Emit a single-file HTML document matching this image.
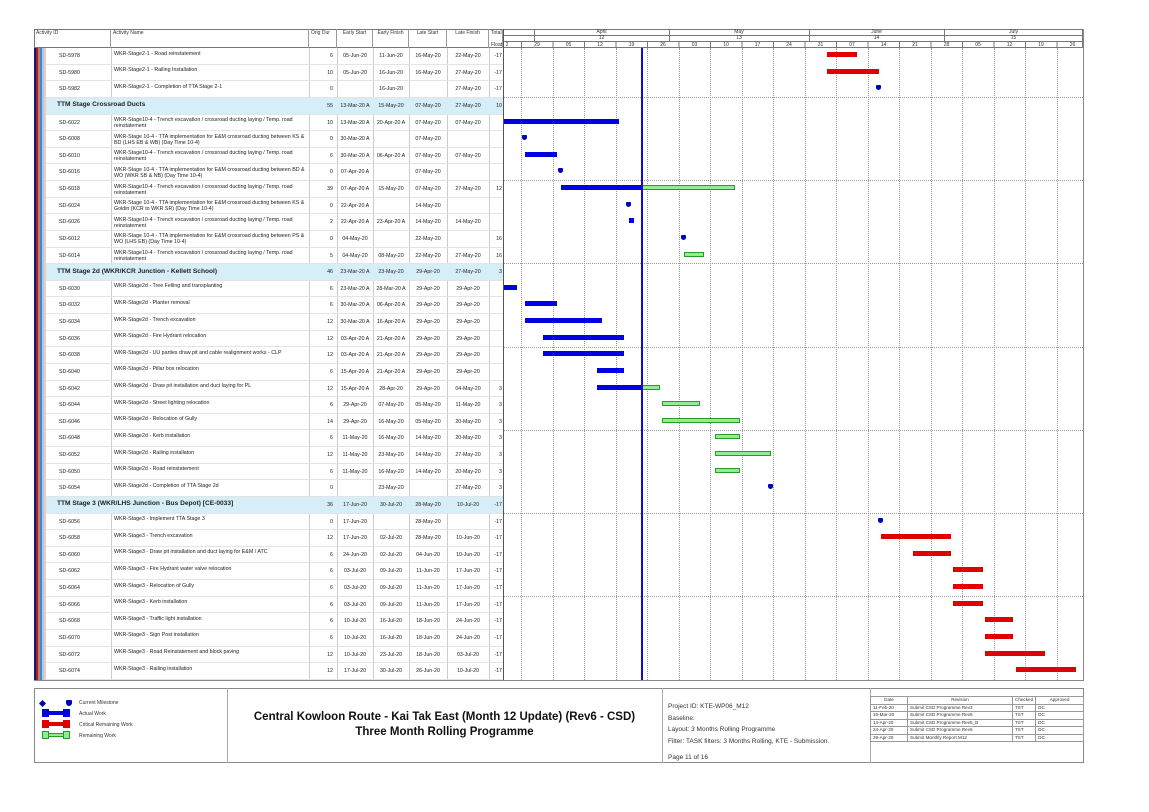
<!DOCTYPE html>
<html><head><meta charset="utf-8">
<style>
*{margin:0;padding:0;box-sizing:border-box}
body{width:1149px;height:812px;background:#fff;position:relative;overflow:hidden;font-family:"Liberation Sans",sans-serif;color:#222}
.a{position:absolute}
.hdr{position:absolute;top:29px;height:19px;font-size:5px;border-right:1px solid #999;padding:1px 2px;color:#333}
#rows{position:absolute;left:34px;top:48px;width:1049px}
.r{position:relative;height:16.63px;font-size:5.3px;line-height:6px}
.r:after{content:"";position:absolute;left:12px;width:457px;bottom:0;border-bottom:1px solid #e4e4e4}
.r span{position:absolute;top:5px}
.id{left:25px}
.nm{left:80px;width:195px;top:2.5px!important}
.od{left:275px;width:24px;text-align:right}
.es{left:303px;width:36px;text-align:center}
.ef{left:339px;width:36px;text-align:center}
.ls{left:375px;width:38px;text-align:center}
.lf{left:413px;width:42px;text-align:center}
.tf{left:455px;width:13px;text-align:right}
.g .gb{position:absolute;left:12px;width:457px;height:100%;background:#d6eef8;top:0}
.g .tt{left:23px;font-weight:bold;font-size:6.6px;top:4.5px}
.b{position:absolute;top:4px;height:5px}
.bl{background:#0000e0}
.rd{background:#e00000}
.gr{background:#90ee90;border:1px solid #2a9a2a}
.m{position:absolute;top:4px;width:5px;height:5px;background:#0000c0;border-radius:1px 1px 50% 50%}
.vl{position:absolute;top:29px;height:651px;width:0;border-left:1px solid #ccc}
.gl{position:absolute;top:48px;height:632px;width:0;border-left:1px dotted #999}
.wk{position:absolute;top:42px;font-size:5px;width:20px;text-align:center;margin-left:-10px;color:#333}
.hl{position:absolute;left:503px;width:580px;height:0;border-top:1px dotted #999}
.ft{font-size:5px;color:#333}
.rv td{border:1px solid #999;font-size:4.6px;padding:0 2px;height:7.5px;line-height:6px}
</style></head><body>
<!-- outer frame -->
<div class="a" style="left:34px;top:29px;width:1050px;height:652px;border:1px solid #888;border-left:none"></div>
<!-- table column lines -->
<div class="vl" style="left:111px"></div><div class="vl" style="left:309px"></div><div class="vl" style="left:337px"></div><div class="vl" style="left:373px"></div><div class="vl" style="left:409px"></div><div class="vl" style="left:447px"></div><div class="vl" style="left:489px"></div>
<!-- gridlines -->
<div class="gl" style="left:521px"></div><div class="gl" style="left:552.5px"></div><div class="gl" style="left:584px"></div><div class="gl" style="left:615.5px"></div><div class="gl" style="left:647px"></div><div class="gl" style="left:678.5px"></div><div class="gl" style="left:710px"></div><div class="gl" style="left:741.5px"></div><div class="gl" style="left:773px"></div><div class="gl" style="left:804.5px"></div><div class="gl" style="left:836px"></div><div class="gl" style="left:867.5px"></div><div class="gl" style="left:899px"></div><div class="gl" style="left:930.5px"></div><div class="gl" style="left:962px"></div><div class="gl" style="left:993.5px"></div><div class="gl" style="left:1025px"></div><div class="gl" style="left:1056.5px"></div>
<div class="hl" style="top:97px"></div><div class="hl" style="top:180px"></div><div class="hl" style="top:263px"></div><div class="hl" style="top:347px"></div><div class="hl" style="top:430px"></div><div class="hl" style="top:513px"></div><div class="hl" style="top:596px"></div>
<!-- header -->
<div class="a" style="left:34px;top:29px;width:1049px;height:19px;border:1px solid #777;background:#fff"></div>
<div class="hdr" style="left:34px;width:77px">Activity ID</div>
<div class="hdr" style="left:111px;width:198px">Activity Name</div>
<div class="hdr" style="left:309px;width:28px">Orig Dur</div>
<div class="hdr" style="left:337px;width:36px;text-align:center">Early Start</div>
<div class="hdr" style="left:373px;width:36px;text-align:center">Early Finish</div>
<div class="hdr" style="left:409px;width:38px;text-align:center">Late Start</div>
<div class="hdr" style="left:447px;width:42px;text-align:center">Late Finish</div>
<div class="hdr" style="left:489px;width:14px">Total<br><br>Float</div>
<!-- timeline header -->
<div class="a" style="left:503px;top:35px;width:580px;border-top:1px solid #777"></div>
<div class="a" style="left:503px;top:41px;width:580px;border-top:1px solid #777"></div>
<div class="a" style="left:534px;top:29px;height:12px;border-left:1px solid #777"></div>
<div class="a" style="left:669px;top:29px;height:12px;border-left:1px solid #777"></div>
<div class="a" style="left:809px;top:29px;height:12px;border-left:1px solid #777"></div>
<div class="a" style="left:944px;top:29px;height:12px;border-left:1px solid #777"></div>
<div class="a ft" style="left:534px;top:29px;width:135px;text-align:center">April</div>
<div class="a ft" style="left:534px;top:35px;width:135px;text-align:center">12</div>
<div class="a ft" style="left:669px;top:29px;width:140px;text-align:center">May</div>
<div class="a ft" style="left:669px;top:35px;width:140px;text-align:center">13</div>
<div class="a ft" style="left:809px;top:29px;width:135px;text-align:center">June</div>
<div class="a ft" style="left:809px;top:35px;width:135px;text-align:center">14</div>
<div class="a ft" style="left:944px;top:29px;width:139px;text-align:center">July</div>
<div class="a ft" style="left:944px;top:35px;width:139px;text-align:center">15</div>
<div class="wk" style="left:507px">2</div>
<div class="wk" style="left:537px">29</div><div class="wk" style="left:568.5px">05</div><div class="wk" style="left:600px">12</div><div class="wk" style="left:631.5px">19</div><div class="wk" style="left:663px">26</div><div class="wk" style="left:694.5px">03</div><div class="wk" style="left:726px">10</div><div class="wk" style="left:757.5px">17</div><div class="wk" style="left:789px">24</div><div class="wk" style="left:820.5px">31</div><div class="wk" style="left:852px">07</div><div class="wk" style="left:883.5px">14</div><div class="wk" style="left:915px">21</div><div class="wk" style="left:946.5px">28</div><div class="wk" style="left:978px">05</div><div class="wk" style="left:1009.5px">12</div><div class="wk" style="left:1041px">19</div><div class="wk" style="left:1072.5px">26</div>
<div class="a" style="left:521px;top:41px;width:1px;height:7px;background:#777;box-shadow:31.5px 0 #777,63px 0 #777,94.5px 0 #777,126px 0 #777,157.5px 0 #777,189px 0 #777,220.5px 0 #777,252px 0 #777,283.5px 0 #777,315px 0 #777,346.5px 0 #777,378px 0 #777,409.5px 0 #777,441px 0 #777,472.5px 0 #777,504px 0 #777,535.5px 0 #777"></div>

<div id="rows">
<div class="r"><span class="id">SD-5978</span><span class="nm">WKR-Stage2-1 - Road reinstatement</span><span class="od">6</span><span class="es">05-Jun-20</span><span class="ef">11-Jun-20</span><span class="ls">16-May-20</span><span class="lf">22-May-20</span><span class="tf">-17</span><div class="b rd" style="left:793px;width:30px"></div></div>
<div class="r"><span class="id">SD-5980</span><span class="nm">WKR-Stage2-1 - Railing Installation</span><span class="od">10</span><span class="es">05-Jun-20</span><span class="ef">16-Jun-20</span><span class="ls">16-May-20</span><span class="lf">27-May-20</span><span class="tf">-17</span><div class="b rd" style="left:793px;width:52px"></div></div>
<div class="r"><span class="id">SD-5982</span><span class="nm">WKR-Stage2-1 - Completion of TTA Stage 2-1</span><span class="od">0</span><span class="ef">16-Jun-20</span><span class="lf">27-May-20</span><span class="tf">-17</span><div class="m" style="left:842px"></div></div>
<div class="r g"><div class="gb"></div><span class="tt">TTM Stage Crossroad Ducts</span><span class="od">55</span><span class="es">13-Mar-20 A</span><span class="ef">15-May-20</span><span class="ls">07-May-20</span><span class="lf">27-May-20</span><span class="tf">10</span></div>
<div class="r"><span class="id">SD-6022</span><span class="nm">WKR-Stage10-4 - Trench excavation / crossroad ducting laying / Temp. road reinstatement</span><span class="od">10</span><span class="es">13-Mar-20 A</span><span class="ef">20-Apr-20 A</span><span class="ls">07-May-20</span><span class="lf">07-May-20</span><div class="b bl" style="left:469px;width:116px"></div></div>
<div class="r"><span class="id">SD-6008</span><span class="nm">WKR-Stage 10-4 - TTA implementation for E&amp;M crossroad ducting between KS &amp; BD (LHS EB &amp; WB) (Day Time 10-4)</span><span class="od">0</span><span class="es">30-Mar-20 A</span><span class="ls">07-May-20</span><div class="m" style="left:488px"></div></div>
<div class="r"><span class="id">SD-6010</span><span class="nm">WKR-Stage10-4 - Trench excavation / crossroad ducting laying / Temp. road reinstatement</span><span class="od">6</span><span class="es">30-Mar-20 A</span><span class="ef">06-Apr-20 A</span><span class="ls">07-May-20</span><span class="lf">07-May-20</span><div class="b bl" style="left:491px;width:32px"></div></div>
<div class="r"><span class="id">SD-6016</span><span class="nm">WKR-Stage 10-4 - TTA implementation for E&amp;M crossroad ducting between BD &amp; WO (WKR SB &amp; NB) (Day Time 10-4)</span><span class="od">0</span><span class="es">07-Apr-20 A</span><span class="ls">07-May-20</span><div class="m" style="left:524px"></div></div>
<div class="r"><span class="id">SD-6018</span><span class="nm">WKR-Stage10-4 - Trench excavation / crossroad ducting laying / Temp. road reinstatement</span><span class="od">39</span><span class="es">07-Apr-20 A</span><span class="ef">15-May-20</span><span class="ls">07-May-20</span><span class="lf">27-May-20</span><span class="tf">12</span><div class="b bl" style="left:527px;width:81px"></div><div class="b gr" style="left:608px;width:93px"></div></div>
<div class="r"><span class="id">SD-6024</span><span class="nm">WKR-Stage 10-4 - TTA implementation for E&amp;M crossroad ducting between KS &amp; Goldin (KCR to WKR SR) (Day Time 10-4)</span><span class="od">0</span><span class="es">22-Apr-20 A</span><span class="ls">14-May-20</span><div class="m" style="left:592px"></div></div>
<div class="r"><span class="id">SD-6026</span><span class="nm">WKR-Stage10-4 - Trench excavation / crossroad ducting laying / Temp. road reinstatement</span><span class="od">2</span><span class="es">22-Apr-20 A</span><span class="ef">23-Apr-20 A</span><span class="ls">14-May-20</span><span class="lf">14-May-20</span><div class="b bl" style="left:595px;width:5px"></div></div>
<div class="r"><span class="id">SD-6012</span><span class="nm">WKR-Stage 10-4 - TTA implementation for E&amp;M crossroad ducting between PS &amp; WO (LHS EB) (Day Time 10-4)</span><span class="od">0</span><span class="es">04-May-20</span><span class="ls">22-May-20</span><span class="tf">16</span><div class="m" style="left:647px"></div></div>
<div class="r"><span class="id">SD-6014</span><span class="nm">WKR-Stage10-4 - Trench excavation / crossroad ducting laying / Temp. road reinstatement</span><span class="od">5</span><span class="es">04-May-20</span><span class="ef">08-May-20</span><span class="ls">22-May-20</span><span class="lf">27-May-20</span><span class="tf">16</span><div class="b gr" style="left:650px;width:20px"></div></div>
<div class="r g"><div class="gb"></div><span class="tt">TTM Stage 2d (WKR/KCR Junction - Kellett School)</span><span class="od">46</span><span class="es">23-Mar-20 A</span><span class="ef">23-May-20</span><span class="ls">29-Apr-20</span><span class="lf">27-May-20</span><span class="tf">3</span></div>
<div class="r"><span class="id">SD-6030</span><span class="nm">WKR-Stage2d - Tree Felling and transplanting</span><span class="od">6</span><span class="es">23-Mar-20 A</span><span class="ef">28-Mar-20 A</span><span class="ls">29-Apr-20</span><span class="lf">29-Apr-20</span><div class="b bl" style="left:469px;width:14px"></div></div>
<div class="r"><span class="id">SD-6032</span><span class="nm">WKR-Stage2d - Planter removal</span><span class="od">6</span><span class="es">30-Mar-20 A</span><span class="ef">06-Apr-20 A</span><span class="ls">29-Apr-20</span><span class="lf">29-Apr-20</span><div class="b bl" style="left:491px;width:32px"></div></div>
<div class="r"><span class="id">SD-6034</span><span class="nm">WKR-Stage2d - Trench excavation</span><span class="od">12</span><span class="es">30-Mar-20 A</span><span class="ef">16-Apr-20 A</span><span class="ls">29-Apr-20</span><span class="lf">29-Apr-20</span><div class="b bl" style="left:491px;width:77px"></div></div>
<div class="r"><span class="id">SD-6036</span><span class="nm">WKR-Stage2d - Fire Hydrant relocation</span><span class="od">12</span><span class="es">03-Apr-20 A</span><span class="ef">21-Apr-20 A</span><span class="ls">29-Apr-20</span><span class="lf">29-Apr-20</span><div class="b bl" style="left:509px;width:81px"></div></div>
<div class="r"><span class="id">SD-6038</span><span class="nm">WKR-Stage2d - UU parties draw pit and cable realignment works - CLP</span><span class="od">12</span><span class="es">03-Apr-20 A</span><span class="ef">21-Apr-20 A</span><span class="ls">29-Apr-20</span><span class="lf">29-Apr-20</span><div class="b bl" style="left:509px;width:81px"></div></div>
<div class="r"><span class="id">SD-6040</span><span class="nm">WKR-Stage2d - Pillar box relocation</span><span class="od">6</span><span class="es">15-Apr-20 A</span><span class="ef">21-Apr-20 A</span><span class="ls">29-Apr-20</span><span class="lf">29-Apr-20</span><div class="b bl" style="left:563px;width:27px"></div></div>
<div class="r"><span class="id">SD-6042</span><span class="nm">WKR-Stage2d - Draw pit installation and duct laying for PL</span><span class="od">12</span><span class="es">15-Apr-20 A</span><span class="ef">28-Apr-20</span><span class="ls">29-Apr-20</span><span class="lf">04-May-20</span><span class="tf">3</span><div class="b bl" style="left:563px;width:45px"></div><div class="b gr" style="left:608px;width:18px"></div></div>
<div class="r"><span class="id">SD-6044</span><span class="nm">WKR-Stage2d - Street lighting relocation</span><span class="od">6</span><span class="es">29-Apr-20</span><span class="ef">07-May-20</span><span class="ls">05-May-20</span><span class="lf">11-May-20</span><span class="tf">3</span><div class="b gr" style="left:628px;width:38px"></div></div>
<div class="r"><span class="id">SD-6046</span><span class="nm">WKR-Stage2d - Relocation of Gully</span><span class="od">14</span><span class="es">29-Apr-20</span><span class="ef">16-May-20</span><span class="ls">05-May-20</span><span class="lf">20-May-20</span><span class="tf">3</span><div class="b gr" style="left:628px;width:78px"></div></div>
<div class="r"><span class="id">SD-6048</span><span class="nm">WKR-Stage2d - Kerb installation</span><span class="od">6</span><span class="es">11-May-20</span><span class="ef">16-May-20</span><span class="ls">14-May-20</span><span class="lf">20-May-20</span><span class="tf">3</span><div class="b gr" style="left:681px;width:25px"></div></div>
<div class="r"><span class="id">SD-6052</span><span class="nm">WKR-Stage2d - Railing installaton</span><span class="od">12</span><span class="es">11-May-20</span><span class="ef">23-May-20</span><span class="ls">14-May-20</span><span class="lf">27-May-20</span><span class="tf">3</span><div class="b gr" style="left:681px;width:56px"></div></div>
<div class="r"><span class="id">SD-6050</span><span class="nm">WKR-Stage2d - Road reinstatement</span><span class="od">6</span><span class="es">11-May-20</span><span class="ef">16-May-20</span><span class="ls">14-May-20</span><span class="lf">20-May-20</span><span class="tf">3</span><div class="b gr" style="left:681px;width:25px"></div></div>
<div class="r"><span class="id">SD-6054</span><span class="nm">WKR-Stage2d - Completion of TTA Stage 2d</span><span class="od">0</span><span class="ef">23-May-20</span><span class="lf">27-May-20</span><span class="tf">3</span><div class="m" style="left:734px"></div></div>
<div class="r g"><div class="gb"></div><span class="tt">TTM Stage 3 (WKR/LHS Junction - Bus Depot) [CE-0033]</span><span class="od">36</span><span class="es">17-Jun-20</span><span class="ef">30-Jul-20</span><span class="ls">28-May-20</span><span class="lf">10-Jul-20</span><span class="tf">-17</span></div>
<div class="r"><span class="id">SD-6056</span><span class="nm">WKR-Stage3 - Implement TTA Stage 3</span><span class="od">0</span><span class="es">17-Jun-20</span><span class="ls">28-May-20</span><span class="tf">-17</span><div class="m" style="left:844px"></div></div>
<div class="r"><span class="id">SD-6058</span><span class="nm">WKR-Stage3 - Trench excavation</span><span class="od">12</span><span class="es">17-Jun-20</span><span class="ef">02-Jul-20</span><span class="ls">28-May-20</span><span class="lf">10-Jun-20</span><span class="tf">-17</span><div class="b rd" style="left:847px;width:70px"></div></div>
<div class="r"><span class="id">SD-6060</span><span class="nm">WKR-Stage3 - Draw pit installation and duct laying for E&amp;M / ATC</span><span class="od">6</span><span class="es">24-Jun-20</span><span class="ef">02-Jul-20</span><span class="ls">04-Jun-20</span><span class="lf">10-Jun-20</span><span class="tf">-17</span><div class="b rd" style="left:879px;width:38px"></div></div>
<div class="r"><span class="id">SD-6062</span><span class="nm">WKR-Stage3 - Fire Hydrant water valve relocation</span><span class="od">6</span><span class="es">03-Jul-20</span><span class="ef">09-Jul-20</span><span class="ls">11-Jun-20</span><span class="lf">17-Jun-20</span><span class="tf">-17</span><div class="b rd" style="left:919px;width:30px"></div></div>
<div class="r"><span class="id">SD-6064</span><span class="nm">WKR-Stage3 - Relocation of Gully</span><span class="od">6</span><span class="es">03-Jul-20</span><span class="ef">09-Jul-20</span><span class="ls">11-Jun-20</span><span class="lf">17-Jun-20</span><span class="tf">-17</span><div class="b rd" style="left:919px;width:30px"></div></div>
<div class="r"><span class="id">SD-6066</span><span class="nm">WKR-Stage3 - Kerb installation</span><span class="od">6</span><span class="es">03-Jul-20</span><span class="ef">09-Jul-20</span><span class="ls">11-Jun-20</span><span class="lf">17-Jun-20</span><span class="tf">-17</span><div class="b rd" style="left:919px;width:30px"></div></div>
<div class="r"><span class="id">SD-6068</span><span class="nm">WKR-Stage3 - Traffic light installation</span><span class="od">6</span><span class="es">10-Jul-20</span><span class="ef">16-Jul-20</span><span class="ls">18-Jun-20</span><span class="lf">24-Jun-20</span><span class="tf">-17</span><div class="b rd" style="left:951px;width:28px"></div></div>
<div class="r"><span class="id">SD-6070</span><span class="nm">WKR-Stage3 - Sign Post installation</span><span class="od">6</span><span class="es">10-Jul-20</span><span class="ef">16-Jul-20</span><span class="ls">18-Jun-20</span><span class="lf">24-Jun-20</span><span class="tf">-17</span><div class="b rd" style="left:951px;width:28px"></div></div>
<div class="r"><span class="id">SD-6072</span><span class="nm">WKR-Stage3 - Road Reinstatement and block paving</span><span class="od">12</span><span class="es">10-Jul-20</span><span class="ef">23-Jul-20</span><span class="ls">18-Jun-20</span><span class="lf">03-Jul-20</span><span class="tf">-17</span><div class="b rd" style="left:951px;width:60px"></div></div>
<div class="r"><span class="id">SD-6074</span><span class="nm">WKR-Stage3 - Railing installation</span><span class="od">12</span><span class="es">17-Jul-20</span><span class="ef">30-Jul-20</span><span class="ls">26-Jun-20</span><span class="lf">10-Jul-20</span><span class="tf">-17</span><div class="b rd" style="left:982px;width:60px"></div></div>
</div>
<!-- stripes -->
<div class="a" style="left:34px;top:48px;width:2px;height:632px;background:#1a1a6a"></div>
<div class="a" style="left:36px;top:48px;width:2px;height:632px;background:#8a2a2a"></div>
<div class="a" style="left:38px;top:48px;width:2px;height:632px;background:#e0706a"></div>
<div class="a" style="left:40px;top:48px;width:2px;height:632px;background:#3a8ad8"></div>
<div class="a" style="left:42px;top:48px;width:2px;height:632px;background:#9ad0ea"></div>
<div class="a" style="left:44px;top:48px;width:2px;height:632px;background:#f0c8c0"></div>
<div class="a" style="left:503px;top:29px;height:651px;border-left:1px solid #555"></div>
<!-- data date -->
<div class="a" style="left:641px;top:48px;width:2px;height:632px;background:#1010c0"></div>

<!-- footer -->
<div class="a" style="left:34px;top:688px;width:1050px;height:75px;border:1px solid #888"></div>
<div class="a" style="left:227px;top:688px;height:75px;border-left:1px solid #aaa"></div>
<div class="a" style="left:662px;top:688px;height:75px;border-left:1px solid #aaa"></div>
<div class="a" style="left:870px;top:688px;height:75px;border-left:1px solid #aaa"></div>
<div class="a" style="left:40px;top:701px;width:5px;height:5px;background:#0000c0;transform:rotate(45deg)"></div>
<div class="a" style="left:66px;top:700px;width:6px;height:6px;background:#0000c0;border-radius:1px 1px 50% 50%"></div>
<div class="a ft" style="left:79px;top:700px">Current Milestone</div>
<div class="a" style="left:42px;top:711px;width:28px;height:4px;background:#0000e0"></div><div class="a" style="left:42px;top:709px;width:7px;height:8px;background:#0000e0"></div><div class="a" style="left:63px;top:709px;width:7px;height:8px;background:#0000e0"></div>
<div class="a ft" style="left:79px;top:711px">Actual Work</div>
<div class="a" style="left:42px;top:722px;width:28px;height:4px;background:#e00000"></div><div class="a" style="left:42px;top:720px;width:7px;height:8px;background:#e00000"></div><div class="a" style="left:63px;top:720px;width:7px;height:8px;background:#e00000"></div>
<div class="a ft" style="left:79px;top:722px">Critical Remaining Work</div>
<div class="a" style="left:42px;top:733px;width:28px;height:4px;background:#90ee90;border:1px solid #2a9a2a"></div><div class="a" style="left:42px;top:731px;width:7px;height:8px;background:#90ee90;border:1px solid #2a9a2a"></div><div class="a" style="left:63px;top:731px;width:7px;height:8px;background:#90ee90;border:1px solid #2a9a2a"></div>
<div class="a ft" style="left:79px;top:733px">Remaining Work</div>
<div class="a" style="left:227px;top:710px;width:435px;text-align:center;font-weight:bold;font-size:11.5px;line-height:15px;color:#111">Central Kowloon Route - Kai Tak East (Month 12 Update) (Rev6 - CSD)<br>Three Month Rolling Programme</div>
<div class="a" style="left:668px;top:701px;font-size:6.5px;line-height:11.5px;color:#333">Project ID: KTE-WP06_M12<br>Baseline:<br>Layout: 3 Months Rolling Programme<br>Filter: TASK filters: 3 Months Rolling, KTE - Submission.</div>
<div class="a" style="left:668px;top:754px;font-size:6.5px;color:#333">Page 11 of 16</div>
<table class="a rv" style="left:870px;top:696px;width:214px;border-collapse:collapse;color:#333">
<tr><td style="width:37px;text-align:center">Date</td><td style="width:105px;text-align:center">Revision</td><td style="width:22px;text-align:center">Checked</td><td style="text-align:center">Approved</td></tr>
<tr><td>11-Feb-20</td><td>Submit CSD Programme Rev3</td><td>TST</td><td>DC</td></tr>
<tr><td>16-Mar-20</td><td>Submit CSD Programme Rev5</td><td>TST</td><td>DC</td></tr>
<tr><td>14-Apr-20</td><td>Submit CSD Programme Rev5_B</td><td>TST</td><td>DC</td></tr>
<tr><td>24-Apr-20</td><td>Submit CSD Programme Rev6</td><td>TST</td><td>DC</td></tr>
<tr><td>29-Apr-20</td><td>Submit Monthly Report M12</td><td>TST</td><td>DC</td></tr>
</table>
</body></html>
